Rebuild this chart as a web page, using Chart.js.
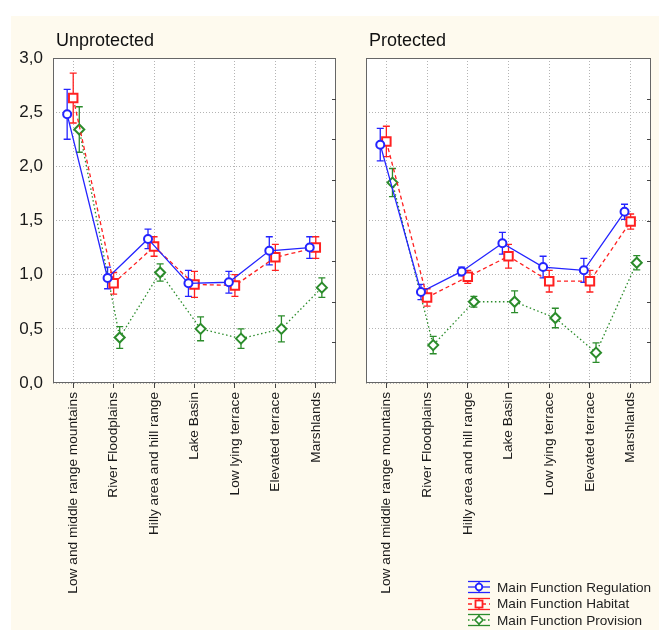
<!DOCTYPE html>
<html>
<head>
<meta charset="utf-8">
<script src="https://cdn.jsdelivr.net/npm/chart.js@4.4.0/dist/chart.umd.min.js"></script>
<style>
html, body { margin: 0; padding: 0; background: #fff; }
#page { position: relative; width: 659px; height: 630px; overflow: hidden; font-family: "Liberation Sans", Arial, sans-serif; }
#bg { position: absolute; left: 11px; top: 16px; right: 0; bottom: 0; background: #fefaee; }
#c1 { position: absolute; left: 0; top: 0; }
#c2 { position: absolute; left: 345px; top: 0; }
#legend { position: absolute; left: 467px; top: 579px; font-size: 13.6px; color: #222; }
.row { display: flex; align-items: center; height: 16.5px; }
.row svg { margin-right: 6px; }
</style>
</head>
<body>
<div id="page">
  <div id="bg"></div>
  <canvas id="c1" width="345" height="630"></canvas>
  <canvas id="c2" width="314" height="630"></canvas>
  <div id="legend"></div>
</div>
<script>
// categorias e valores
const categories = ['Low and middle range mountains', 'River Floodplains', 'Hilly area and hill range',
    'Lake Basin', 'Low lying terrace', 'Elevated terrace', 'Marshlands'];
const yTicks = [0, 0.5, 1, 1.5, 2, 2.5, 3];
const yTickLabels = ['0,0', '0,5', '1,0', '1,5', '2,0', '2,5', '3,0'];
const sideTicks = [0.375, 0.75, 1.125, 1.5, 1.875, 2.25, 2.625];

// Unprotected
const unprotRegulation    = [2.48, 0.97, 1.33, 0.92, 0.93, 1.22, 1.25];
const unprotRegulationErr = [0.23, 0.10, 0.09, 0.12, 0.10, 0.13, 0.10];
const unprotHabitat       = [2.63, 0.92, 1.26, 0.91, 0.90, 1.16, 1.25];
const unprotHabitatErr    = [0.23, 0.10, 0.09, 0.12, 0.10, 0.12, 0.10];
const unprotProvision     = [2.34, 0.42, 1.02, 0.50, 0.41, 0.50, 0.88];
const unprotProvisionErr  = [0.21, 0.10, 0.08, 0.11, 0.09, 0.12, 0.09];

// Protected
const protRegulation    = [2.20, 0.84, 1.03, 1.29, 1.07, 1.04, 1.58];
const protRegulationErr = [0.15, 0.07, 0.04, 0.10, 0.10, 0.11, 0.07];
const protHabitat       = [2.23, 0.79, 0.98, 1.17, 0.94, 0.94, 1.49];
const protHabitatErr    = [0.14, 0.08, 0.06, 0.11, 0.10, 0.10, 0.07];
const protProvision     = [1.85, 0.35, 0.75, 0.75, 0.60, 0.28, 1.11];
const protProvisionErr  = [0.13, 0.08, 0.05, 0.10, 0.09, 0.09, 0.065];

const FONT = '"Liberation Sans", Arial, sans-serif';
Chart.defaults.font.family = FONT;

const series = [
    { label: 'Main Function Regulation', color: '#2424ff', dx: -0.15, dash: [], style: 'circle', r: 4 },
    { label: 'Main Function Habitat', color: '#ff2020', dx: 0, dash: [4, 3], style: 'rect', r: 6 },
    { label: 'Main Function Provision', color: '#2b8c2b', dx: 0.15, dash: [1.5, 2.5], style: 'rectRot', r: 5 }
];

const mkDatasets = (vals, errs) => series.map((s, k) => ({
    label: s.label,
    data: vals[k].map((v, i) => ({ x: i + s.dx, y: v, e: errs[k][i] })),
    borderColor: s.color,
    borderWidth: 1.3,
    borderDash: s.dash,
    pointStyle: s.style,
    pointRadius: s.r,
    pointBorderWidth: 2,
    pointBorderColor: s.color,
    pointBackgroundColor: '#fff',
    tension: 0,
    fill: false
}));

// fundo branco, moldura, marcas laterais, barras de erro e título
const panelPlugin = {
    id: 'panel',
    beforeDraw: (chart) => {
        const { ctx, chartArea: a } = chart;
        ctx.save();
        ctx.fillStyle = '#fff';
        ctx.fillRect(a.left, a.top, a.right - a.left, a.bottom - a.top);
        ctx.restore();
    },
    beforeDatasetsDraw: (chart) => {
        const { ctx, chartArea: a } = chart;
        const ys = chart.scales.y;
        ctx.save();
        ctx.strokeStyle = '#666';
        ctx.lineWidth = 1;
        ctx.strokeRect(a.left + 0.5, a.top + 0.5, a.right - a.left - 1, a.bottom - a.top - 1);
        // marcas curtas no lado direito
        ctx.strokeStyle = '#444';
        ctx.beginPath();
        sideTicks.forEach(v => {
            const y = Math.round(ys.getPixelForValue(v)) + 0.5;
            ctx.moveTo(a.right - 4, y); ctx.lineTo(a.right, y);
        });
        ctx.stroke();
        chart.data.datasets.forEach((ds, d) => {
            const meta = chart.getDatasetMeta(d);
            ctx.strokeStyle = ds.borderColor;
            ctx.lineWidth = 1.3;
            ds.data.forEach((p, i) => {
                const x = meta.data[i].x;
                const t = ys.getPixelForValue(p.y + p.e);
                const b = ys.getPixelForValue(p.y - p.e);
                ctx.beginPath();
                ctx.moveTo(x, t); ctx.lineTo(x, b);
                ctx.moveTo(x - 3.5, t); ctx.lineTo(x + 3.5, t);
                ctx.moveTo(x - 3.5, b); ctx.lineTo(x + 3.5, b);
                ctx.stroke();
            });
        });
        ctx.restore();
    },
    afterDraw: (chart) => {
        const { ctx, chartArea: a } = chart;
        ctx.save();
        ctx.fillStyle = '#111';
        ctx.font = '18px ' + FONT;
        ctx.textBaseline = 'alphabetic';
        ctx.fillText(chart.options.plugins.panel.title, a.left + 3, a.top - 12);
        ctx.restore();
    }
};

const mkChart = (id, title, vals, errs, leftW, padRight, showY) => new Chart(document.getElementById(id), {
    type: 'line',
    data: { datasets: mkDatasets(vals, errs) },
    plugins: [panelPlugin],
    options: {
        responsive: false,
        devicePixelRatio: 1,
        animation: false,
        layout: { padding: { top: 58, left: 0, right: padRight, bottom: 0 } },
        plugins: { legend: { display: false }, tooltip: { enabled: false }, panel: { title } },
        scales: {
            x: {
                type: 'linear', min: -0.5, max: 6.5,
                afterBuildTicks: s => { s.ticks = categories.map((c, i) => ({ value: i })); },
                afterFit: s => { s.height = 247; },
                grid: { color: '#b4b4b4', lineWidth: 1, tickLength: 5, tickColor: '#444', tickWidth: 1 },
                border: { display: false, dash: [1, 2] },
                ticks: {
                    autoSkip: false, minRotation: 90, maxRotation: 90, padding: 4, color: '#1a1a1a',
                    font: { size: 13.7 }, callback: v => categories[v]
                }
            },
            y: {
                min: 0, max: 3, position: 'left',
                afterBuildTicks: s => { s.ticks = yTicks.map(v => ({ value: v })); },
                afterFit: s => { s.width = leftW; },
                grid: { color: '#b4b4b4', drawTicks: false },
                border: { display: false, dash: [1, 2] },
                ticks: { display: showY, padding: 10, color: '#1a1a1a', font: { size: 17 }, callback: (v, i) => yTickLabels[i] }
            }
        }
    }
});

mkChart('c1', 'Unprotected',
    [unprotRegulation, unprotHabitat, unprotProvision],
    [unprotRegulationErr, unprotHabitatErr, unprotProvisionErr], 53, 9, true);
mkChart('c2', 'Protected',
    [protRegulation, protHabitat, protProvision],
    [protRegulationErr, protHabitatErr, protProvisionErr], 21, 7, false);

// legenda
const icon = (s) => {
    const m = s.style === 'circle'
        ? `<circle cx="12" cy="7" r="3.3" fill="#fff" stroke="${s.color}" stroke-width="1.8"/>`
        : s.style === 'rect'
            ? `<rect x="8.5" y="3.5" width="7" height="7" fill="#fff" stroke="${s.color}" stroke-width="1.8"/>`
            : `<path d="M12 3 L16 7 L12 11 L8 7 Z" fill="#fff" stroke="${s.color}" stroke-width="1.6"/>`;
    return `<svg width="24" height="14" viewBox="0 0 24 14">
        <line x1="1" y1="1.5" x2="23" y2="1.5" stroke="${s.color}" stroke-width="1.3"/>
        <line x1="1" y1="12.5" x2="23" y2="12.5" stroke="${s.color}" stroke-width="1.3"/>
        <line x1="12" y1="1.5" x2="12" y2="12.5" stroke="${s.color}" stroke-width="1.3"/>
        <line x1="1" y1="7" x2="23" y2="7" stroke="${s.color}" stroke-width="1.3" stroke-dasharray="${s.dash.join(' ')}"/>
        ${m}</svg>`;
};
document.getElementById('legend').innerHTML = series.map(s =>
    `<div class="row">${icon(s)}<span>${s.label}</span></div>`).join('');
</script>
</body>
</html>
